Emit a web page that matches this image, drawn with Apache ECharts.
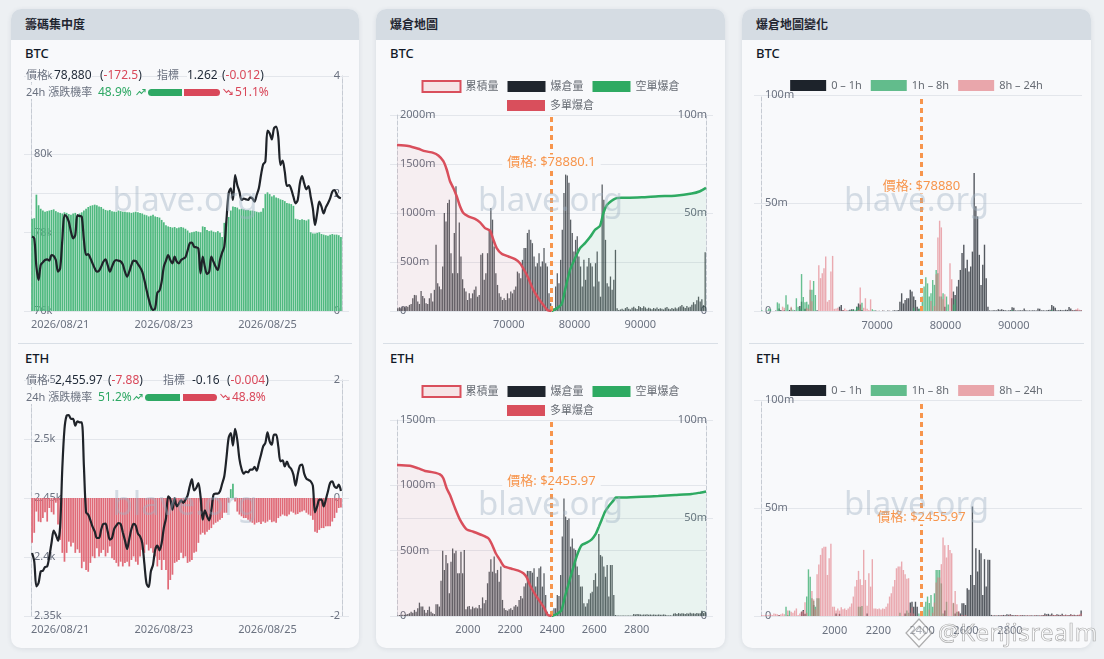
<!DOCTYPE html>
<html><head><meta charset="utf-8">
<script src="https://cdn.jsdelivr.net/npm/echarts@6/dist/echarts.min.js"></script>
<style>
html,body{margin:0;padding:0;}
body{width:1104px;height:659px;background:#edf0f3;position:relative;overflow:hidden;font-family:'Noto Sans','Noto Sans CJK TC',sans-serif;}
.card{position:absolute;top:9px;height:639px;background:#f8f9fb;border-radius:10px;box-shadow:0 1px 5px rgba(40,55,75,0.10);overflow:hidden;}
.hdr{height:31px;background:#d5dce3;font-size:12px;font-weight:700;color:#1f2530;line-height:31px;padding-left:14px;}
.sym{position:absolute;left:14px;font-size:13px;font-weight:500;color:#111827;line-height:16px;}
.sep{position:absolute;left:7px;right:7px;top:334px;height:1px;background:#d9dfe6;}
.chart{position:absolute;z-index:2;}
.t{position:absolute;font-size:12px;line-height:14px;white-space:nowrap;z-index:3;color:#1f2937;background:#f8f9fb;}
.g{color:#6b7280;font-size:11px}.r{color:#d9485a}.gr{color:#2ea864}
.pill{position:absolute;height:7px;z-index:3;}
.ico{position:absolute;z-index:3;}
.wm{position:absolute;left:938px;top:617px;font-size:24px;line-height:30px;color:rgba(255,255,255,0.55);-webkit-text-stroke:0.7px rgba(110,110,110,0.55);z-index:10;letter-spacing:0.5px;}
</style></head>
<body>
<div class="card" style="left:11px;width:348px"><div class="hdr">籌碼集中度</div><div class="sym" style="top:36px">BTC</div><div class="sep"></div><div class="sym" style="top:341px">ETH</div></div>
<div class="card" style="left:376px;width:349px"><div class="hdr">爆倉地圖</div><div class="sym" style="top:36px">BTC</div><div class="sep"></div><div class="sym" style="top:341px">ETH</div></div>
<div class="card" style="left:742px;width:349px"><div class="hdr">爆倉地圖變化</div><div class="sym" style="top:36px">BTC</div><div class="sep"></div><div class="sym" style="top:341px">ETH</div></div>

<div id="c1" class="chart" style="left:11px;top:62px;width:348px;height:280px"></div>
<div id="c2" class="chart" style="left:11px;top:366px;width:348px;height:280px"></div>
<div id="c3" class="chart" style="left:376px;top:62px;width:349px;height:280px"></div>
<div id="c4" class="chart" style="left:376px;top:366px;width:349px;height:280px"></div>
<div id="c5" class="chart" style="left:742px;top:62px;width:349px;height:280px"></div>
<div id="c6" class="chart" style="left:742px;top:366px;width:349px;height:280px"></div>

<!-- BTC info -->
<div class="t g" style="left:26px;top:68px">價格</div>
<div class="t" style="left:54px;top:68px">78,880</div>
<div class="t" style="left:100px;top:68px">(<span class="r">-172.5</span>)</div>
<div class="t g" style="left:157px;top:68px">指標</div>
<div class="t" style="left:187px;top:68px">1.262</div>
<div class="t" style="left:222px;top:68px">(<span class="r">-0.012</span>)</div>
<div class="t g" style="left:26px;top:85px">24h 漲跌機率</div>
<div class="t gr" style="left:98px;top:85px">48.9%</div>
<svg class="ico" style="left:136px;top:88px" width="10" height="8" viewBox="0 0 10 8"><polyline points="0.5,7 3.5,3.5 5.5,5.5 9,1.5" fill="none" stroke="#2ea864" stroke-width="1.1"/><polyline points="6.3,1.5 9,1.5 9,4.2" fill="none" stroke="#2ea864" stroke-width="1.1"/></svg>
<div class="pill" style="left:148px;top:88.5px;width:34px;background:#2ea864;border-radius:4px 0 0 4px"></div>
<div class="pill" style="left:184px;top:88.5px;width:36px;background:#d9485a;border-radius:0 4px 4px 0"></div>
<svg class="ico" style="left:223px;top:88px" width="10" height="8" viewBox="0 0 10 8"><polyline points="0.5,1 3.5,4.5 5.5,2.5 9,6.5" fill="none" stroke="#d9485a" stroke-width="1.1"/><polyline points="6.3,6.5 9,6.5 9,3.8" fill="none" stroke="#d9485a" stroke-width="1.1"/></svg>
<div class="t r" style="left:235px;top:85px">51.1%</div>

<!-- ETH info -->
<div class="t g" style="left:26px;top:373px">價格</div>
<div class="t" style="left:55px;top:373px">2,455.97</div>
<div class="t" style="left:108px;top:373px">(<span class="r">-7.88</span>)</div>
<div class="t g" style="left:163px;top:373px">指標</div>
<div class="t" style="left:192px;top:373px">-0.16</div>
<div class="t" style="left:227px;top:373px">(<span class="r">-0.004</span>)</div>
<div class="t g" style="left:26px;top:390px">24h 漲跌機率</div>
<div class="t gr" style="left:98px;top:390px">51.2%</div>
<svg class="ico" style="left:133px;top:393px" width="10" height="8" viewBox="0 0 10 8"><polyline points="0.5,7 3.5,3.5 5.5,5.5 9,1.5" fill="none" stroke="#2ea864" stroke-width="1.1"/><polyline points="6.3,1.5 9,1.5 9,4.2" fill="none" stroke="#2ea864" stroke-width="1.1"/></svg>
<div class="pill" style="left:145px;top:393.5px;width:35px;background:#2ea864;border-radius:4px 0 0 4px"></div>
<div class="pill" style="left:183px;top:393.5px;width:34px;background:#d9485a;border-radius:0 4px 4px 0"></div>
<svg class="ico" style="left:220px;top:393px" width="10" height="8" viewBox="0 0 10 8"><polyline points="0.5,1 3.5,4.5 5.5,2.5 9,6.5" fill="none" stroke="#d9485a" stroke-width="1.1"/><polyline points="6.3,6.5 9,6.5 9,3.8" fill="none" stroke="#d9485a" stroke-width="1.1"/></svg>
<div class="t r" style="left:232px;top:390px">48.8%</div>

<svg style="position:absolute;left:904px;top:617px;z-index:10" width="30" height="32" viewBox="0 0 30 32"><path d="M15 2 L28 16 L15 30 L2 16 Z" fill="rgba(255,255,255,0.45)" stroke="rgba(110,110,110,0.55)" stroke-width="1.2"/><path d="M15 9 L22 16 L15 23 L8 16 Z" fill="none" stroke="rgba(110,110,110,0.5)" stroke-width="1.2"/></svg>
<div class="wm">@Kenjisrealm</div>

<script>
// ---------------- data ----------------
const dateTicks = ['2026/08/21', '2026/08/23', '2026/08/25'];
const hourStartUTC = Date.UTC(2026, 7, 20, 11);

const btcConcBars = [1.57,1.58,1.98,1.80,1.74,1.71,1.69,1.70,1.71,1.72,
1.73,1.70,1.68,1.67,1.66,1.68,1.67,1.65,1.64,1.66,
1.67,1.63,1.66,1.68,1.71,1.74,1.77,1.79,1.80,1.81,
1.80,1.78,1.77,1.74,1.72,1.71,1.72,1.70,1.69,1.69,
1.71,1.70,1.69,1.69,1.68,1.68,1.67,1.68,1.69,1.68,
1.67,1.66,1.64,1.63,1.61,1.62,1.64,1.61,1.60,1.59,
1.55,1.51,1.46,1.44,1.43,1.42,1.43,1.41,1.42,1.43,
1.42,1.40,1.37,1.33,1.34,1.35,1.36,1.35,1.34,1.44,
1.43,1.38,1.36,1.37,1.35,1.34,1.36,1.33,1.26,1.50,
1.52,1.60,1.71,1.78,1.77,1.76,1.73,1.74,1.73,1.72,
1.72,1.71,1.71,1.70,1.69,1.68,1.69,1.75,1.99,2.02,
1.99,1.95,1.97,1.93,1.92,1.90,1.89,1.87,1.84,1.83,
1.82,1.79,1.57,1.56,1.55,1.56,1.55,1.54,1.56,1.34,
1.32,1.32,1.33,1.34,1.31,1.30,1.29,1.28,1.30,1.31,
1.30,1.30,1.29,1.26];

const btcConcPrice = [77900,77855,77132,76791,77174,77242,77302,77319,77285,77430,
77404,77302,77004,77089,77813,78451,78408,78281,78025,77855,
77940,78451,78425,78408,77813,77430,77455,77345,77217,77089,
77004,77030,77132,77259,77319,77174,77004,77132,77259,77302,
77285,77268,77191,77004,76877,77004,77174,77285,77277,77200,
77115,77004,76791,76536,76306,76111,76026,76068,76468,76519,
76749,77132,77285,77430,77302,77217,77387,77259,77217,77302,
77336,77370,77540,77728,77745,77642,77625,77600,76962,77387,
77132,76945,77004,77387,77259,77132,77047,77302,77489,77642,
78323,79004,79132,78834,79472,79217,79047,78834,78868,78851,
78834,78902,78876,78791,78961,79132,79472,79744,79812,80604,
80536,80383,80663,80706,80451,79727,79838,79557,79191,79217,
79106,78919,78749,78834,79259,79447,79259,79106,79191,78919,
78621,78196,78493,78791,78664,78493,78647,78749,78876,79047,
79089,78979,78902,78880];

const ethConcBars = [-0.76,-0.59,-0.23,-0.40,-0.41,-0.34,-0.24,-0.40,-0.17,-0.24,
-0.28,-0.08,-0.45,-0.71,-0.93,-1.08,-0.93,-0.74,-0.82,-0.76,
-0.93,-0.87,-0.93,-1.19,-1.08,-1.22,-1.25,-1.10,-0.99,-1.02,
-0.85,-0.99,-0.93,-0.88,-0.99,-0.93,-0.82,-1.02,-1.05,-1.10,
-1.16,-1.08,-1.16,-1.10,-1.08,-1.16,-1.05,-0.99,-1.08,-1.13,
-0.99,-0.88,-0.93,-0.79,-0.89,-0.85,-0.93,-0.99,-1.16,-1.05,
-1.22,-1.05,-1.22,-1.55,-1.39,-1.30,-1.10,-1.08,-1.05,-0.93,
-1.02,-0.99,-1.10,-1.08,-1.05,-0.93,-0.91,-0.76,-0.62,-0.59,
-0.62,-0.57,-0.54,-0.51,-0.45,-0.42,-0.40,-0.37,-0.34,-0.25,
-0.25,-0.08,0.15,0.24,-0.06,-0.23,-0.28,-0.31,-0.34,-0.34,
-0.37,-0.40,-0.42,-0.45,-0.42,-0.41,-0.44,-0.40,-0.42,-0.40,
-0.37,-0.41,-0.40,-0.42,-0.34,-0.31,-0.28,-0.30,-0.31,-0.28,
-0.23,-0.25,-0.28,-0.27,-0.24,-0.23,-0.21,-0.25,-0.28,-0.30,
-0.37,-0.57,-0.59,-0.54,-0.51,-0.51,-0.48,-0.48,-0.48,-0.40,
-0.34,-0.25,-0.17,-0.16];

const ethConcPrice = [2403.4,2396.3,2375.1,2378.0,2387.8,2388.4,2391.5,2392.1,2400.6,2411.9,
2422.3,2418.9,2413.8,2426.0,2475.4,2508.5,2519.8,2520.3,2517.0,2517.0,
2511.3,2515.0,2514.1,2514.1,2476.8,2437.9,2435.9,2431.1,2425.7,2421.7,
2416.1,2416.1,2423.2,2428.0,2428.2,2421.7,2414.7,2416.1,2423.7,2426.6,
2428.8,2428.0,2420.9,2414.1,2406.8,2415.3,2423.7,2428.0,2426.6,2419.8,
2417.5,2411.9,2394.3,2377.4,2374.6,2387.8,2393.5,2406.2,2409.6,2405.6,
2411.9,2424.6,2433.0,2451.4,2449.2,2440.1,2450.0,2442.9,2445.2,2448.0,
2445.8,2448.6,2452.0,2459.9,2466.1,2456.5,2458.5,2462.7,2451.4,2431.6,
2439.5,2434.5,2431.1,2439.5,2452.8,2453.7,2453.7,2455.7,2462.1,2468.4,
2483.9,2500.9,2505.1,2494.4,2508.5,2499.4,2483.1,2474.6,2470.6,2472.3,
2471.8,2474.0,2474.0,2476.3,2473.2,2479.7,2486.7,2493.8,2496.6,2505.7,
2498.0,2495.2,2503.7,2503.7,2493.8,2481.1,2481.9,2476.8,2480.8,2476.6,
2474.6,2469.8,2460.5,2469.8,2477.4,2478.3,2470.6,2466.4,2465.3,2464.1,
2460.5,2437.9,2442.9,2448.6,2448.6,2442.9,2448.6,2455.7,2462.7,2464.1,
2459.9,2458.5,2461.3,2455.97];

const btcPrice = 78880.1;
const ethPrice = 2455.97;

// liquidation map (per price bin, m)
const btcMapVol = [1.4,1.9,1.4,2.2,1.9,2.6,2.2,3.1,3.6,6.5,
8.2,8.0,4.8,3.6,10.2,7.7,6.5,3.9,3.6,6.5,
9.0,4.8,10.8,33.8,14.2,12.5,11.1,22.7,50.0,45.7,
55.1,56.8,29.5,19.3,39.8,63.7,19.3,45.2,27.8,16.2,
11.6,9.9,5.6,9.0,6.5,9.0,10.8,12.5,7.3,8.2,
28.7,29.5,15.9,19.3,29.5,41.5,52.6,46.6,32.9,19.3,
13.3,9.0,7.3,5.6,6.5,5.6,9.0,6.5,9.9,9.0,
10.8,12.5,20.1,19.3,16.7,26.1,32.1,32.1,39.8,41.5,
36.3,34.6,27.8,22.7,24.4,29.5,22.7,25.3,32.1,24.4,
22.7,9.0,3.9,0.5,1.4,12.5,19.3,14.2,26.1,41.5,
60.2,69.6,69.1,65.4,46.6,39.8,30.4,36.3,38.1,27.8,
22.7,12.5,26.1,15.9,22.7,27.0,24.4,22.7,12.5,24.4,
30.4,15.0,7.3,64.5,56.8,36.3,14.2,12.5,17.6,10.8,
15.9,31.2,1.4,
0.5,0.8,1.2,0.6,1.5,2.0,1.2,0.8,1.6,2.2,
1.4,1.0,2.5,2.0,1.5,2.4,1.8,1.2,1.6,1.3,
0.9,1.5,1.2,1.8,1.0,1.4,1.1,0.8,1.6,2.0,
1.2,0.9,1.5,1.1,1.8,1.3,1.9,2.4,3.0,2.2,
1.5,2.6,1.8,2.2,3.2,4.5,3.5,5.5,7.3,4.8,
6.0,3.0,30.0];

const btcMapLong = [[55216,1693],[56952,1683],[58484,1655],[59506,1631],[60782,1614],[61548,1587],[62314,1529],[62825,1444],[63336,1324],[63846,1256],[64357,1171],[64868,1068],[65378,1000],[66144,966],[67166,939],[67932,904],[68698,846],[69464,819],[69974,727],[70485,642],[71251,584],[72272,556],[73294,529],[74060,488],[74826,403],[75336,334],[76102,215],[76868,130],[77634,61],[78300,8],[78880.1,0]];
const btcMapShort = [[78880.1,0],[79677,27],[80443,72],[80954,215],[81720,420],[82486,539],[83252,642],[84018,693],[84784,754],[85550,829],[86316,870],[86826,1000],[87337,1079],[87848,1113],[88358,1137],[88869,1152],[89635,1155],[92699,1160],[95252,1171],[97806,1177],[100359,1198],[101636,1222],[102544,1256]];

const ethMapVol = [0.3,0.5,0.4,0.6,0.5,0.8,1.0,1.4,2.2,1.7,
3.1,2.2,3.9,6.8,4.8,4.8,3.1,1.7,3.1,4.8,
2.2,1.4,1.0,6.0,6.0,4.8,18.0,33.3,23.5,31.1,
26.9,11.6,27.7,34.5,32.0,33.3,21.8,21.8,32.8,21.8,
33.7,3.4,4.8,5.1,3.4,4.8,3.9,4.4,3.9,5.6,
3.9,9.5,6.5,8.2,16.7,22.6,28.9,22.6,30.3,21.8,
23.5,17.5,25.2,8.2,3.9,3.1,2.7,3.4,3.9,3.1,
4.8,5.6,4.8,8.2,10.2,9.0,15.0,16.7,23.0,23.0,
23.0,22.1,24.3,15.0,20.0,24.3,25.2,15.0,21.8,10.7,
2.2,0.5,0.5,2.7,3.9,3.9,10.7,10.2,20.9,40.5,
60.0,50.7,49.0,49.8,35.4,39.6,34.5,33.7,25.2,20.9,
15.0,15.0,6.5,4.8,6.5,8.5,11.6,12.4,18.4,21.8,
15.0,41.8,31.1,30.3,25.2,20.0,26.0,9.9,26.0,26.0,
10.7,0.5,
0.2,0.3,0.2,0.2,0.3,0.2,0.2,0.3,0.2,0.2,
1.0,0.8,1.0,0.9,
0.8,0.6,0.8,0.7,0.9,0.6,0.8,0.7,0.8,0.6,0.7,0.8,0.6,0.7,0.8,0.6,
0.4,0.3,0.4,0.3,
1.2,1.4,1.0,1.5,1.2,1.4,1.3,1.0,1.4,1.2,1.7,1.3,1.4,1.2,1.5,1.3,1.4,2.7,1.5,1.8];

const ethMapLong = [[1719.18,1156],[1781,1150],[1821,1130],[1853,1110],[1892,1099],[1924,1084],[1940,1054],[1956,977],[1972,926],[1996,824],[2020,735],[2051,663],[2083,645],[2123,620],[2155,594],[2171,551],[2190,480],[2210,429],[2231,378],[2266,362],[2298,347],[2322,327],[2338,296],[2353,237],[2377,168],[2401,110],[2422,59],[2438,8],[2455.97,0]];
const ethMapShort = [[2455.97,0],[2481,15],[2504,46],[2520,148],[2536,237],[2552,327],[2568,416],[2584,492],[2600,543],[2624,561],[2648,587],[2667,628],[2682,684],[2695,735],[2711,798],[2727,837],[2751,883],[2762,906],[2791,906],[2886,913],[2965,918],[3045,926],[3124,934],[3164,944],[3192.76,952]];

// tick labels of the price axis (where they sit, and their text)
const btcMapTicks = [72340, 82410, 92480];
const btcMapTickText = ['70000', '80000', '90000'];
const ethMapTicks = [2057, 2258, 2459, 2660, 2862];
const ethMapTickText = ['2000', '2200', '2400', '2600', '2800'];

// liquidation map change (per price bin, m)
const btcChg1h = [0,0,0,0,0,0,0,0,0.2,0,
1.2,0.5,0,0.4,0,0,0.5,0,0,0.3,
0,0,2.3,4.3,0,1.0,0,0,0,0,
0,0,0.3,0,0,0,0,0,0,0,
0,0,0,0,0,2.0,2.8,0.5,0,0,
0.2,0.6,0.8,0.8,0,2.0,3.5,3.0,0.5,0,
0,0,0,0,0,0,0.2,0,0.1,0,
0.2,0.1,0,0.2,0.1,0,0.2,0.3,0.2,0.5,
4.3,8.2,3.5,5.1,5.9,5.9,9.8,9.0,6.7,5.1,
2.0,1.0,0,0,0,0,0,0,0,0,
0,0,0,0,0,0,2.0,0,0,0,
5.9,9.0,7.4,11.3,14.4,19.0,26.8,30.7,19.8,23.7,
18.3,20.6,27.5,63.9,48.5,43.8,26.0,12.0,21.4,30.7,
15.2,2.0,
0.3,0.2,0.3,0.4,0.3,0.8,0.6,0.8,0.5,0.3,
0.2,0.3,0.4,1.7,1.5,0.3,0.2,0.3,0.4,0.3,
1.2,0.3,0.2,0.3,0.2,0.4,0.3,0.2,1.2,1.0,
0.3,0.4,0.2,0.3,0.5,0.6,2.8,2.2,1.5,0.4,
0.3,0.5,0.4,0.3,0.6,0.5,1.8,1.2,0.4,0.3,
0.5,0.3,0.2,0.3];
const btcChg8h = [0.3,0,0,0.2,1.2,0.8,0,0,0,4.0,
3.5,0,0,0,7.3,3.0,0,1.5,0.6,0,
5.9,2.0,1.0,17.1,6.5,4.0,4.3,3.0,9.8,9.8,
13.9,7.4,0,0,0,0,0,0,0,0,
0,0,0,0,0,0,0,0,0,0,
0,0,0.5,0.4,0.6,2.0,1.6,2.0,3.8,0,
0,0,0,0,0.8,0.4,0,0,0,0,
0,0,0,0,0,0,0,0,0,0,
0,0,0,0,0,0,0,0,1.5,0,
0,1.0,1.5,6.7,11.3,15.6,12.8,6.7,8.2,14.4,
12.1,19.0,17.5,6.7,6.7,8.2,0,6.7,3.0,0,
0,3.0,5.4,0,0,0,0,0,0,0,
0,0,0,0,0,0,0,0,0,0,
0,0,
0,0,0,0,0,0,0,0,0,0,
0,0,0,0.3,0,0,0,0,0,0,
0,0,0,0,0,0,0,0,0,0,
0,0,0,0,0,0,0.4,0,0,0,
0,0,0,0,0,0,0,0,0,0,
0,0,0,0];
const btcChg24h = [0,0,0,0,0,0,0,0,0,0,
0,0,2.0,1.5,0,0,0,2.0,0,0,
0,0,0,0,0,0,1.5,1.0,14.2,4.5,
0,0,0,21.2,15.2,17.5,19.8,25.2,4.3,5.1,
18.3,25.5,1.0,1.2,1.5,0.5,0,0.5,1.2,0.5,
0,0,0,0,0,0,0.5,10.9,0,1.5,
5.9,1.0,0.5,5.4,0,0,0,0.1,0,0,
0.1,0,0,0,0.1,0,0,0,0,0,
0,0,0,0,0,0,0,0,0,0,
0,0,0,0,0,0,0,0,4.6,0,
2.3,17.0,34.0,41.8,38.7,5.4,7.8,0,0,22.1,
14.7,0,0,0,0,0,0,0,0,0,
0,0,0,0,0,0,0,0,0,0,
0,0,
0,0,0,0,0,0,0,0,0,0,
0,0,0,0,0,0,0,0,0,0,
0,0,0,0,0,0,0,0,0,0,
0,0,0,0,0,0,0,0,0,0,
0,0,0,0,0,0,0,0,0.3,0,
0.8,1.2,0.6,0.4];

const ethChg1h = [0,0,0,0,0,0,0,0,0,0,
0.5,0,0,0,0,0,0,0,0,0,
0,0,0,2.0,2.8,1.0,0,0,0,0,
5.1,0,0,0,0,0,0,0,0,0,
0,0,0,1.2,0,1.0,0,0,0,0,
0,0,0,0,0,0,0,0,0,0,
0,1.2,0,0,0,0,0,0,0,0,
0,0,0,0,0,0,0,0,0,0,
0,0,0,1.2,0,0,6.2,6.6,4.3,6.6,
4.3,0,0,0,0,0,0,0,0,0,
0,0,0,0,0,0,2.5,0,0,0,
0,0,1.2,0,2.0,1.2,5.9,5.9,5.1,12.8,
12.1,19.0,50.7,14.4,31.4,20.6,30.6,29.1,9.7,26.3,
13.6,26.0,26.0,0.5,
0.2,0.3,0.2,0.3,0.4,0.3,0.5,0.3,0.8,0.6,
0.8,0.5,0.3,0.4,0.3,0.2,0.3,0.4,0.3,0.2,
0.3,0.2,0.3,0.2,0.3,0.4,0.3,0.2,0.3,0.5,
1.2,0.8,1.0,0.6,1.2,0.5,0.4,0.8,0.6,0.5,
1.0,0.4,0.6,0.3,0.5,0.8,0.4,0.6,0.3,0.5,
0.4,2.5];
const ethChg8h = [0,0,0,0,0,0,0,0,0,0,
0,0,0,0,4.3,0.5,2.5,0,0,0,
0,0,0,0,0,0,9.0,21.6,18.2,8.2,
7.0,4.3,8.2,8.2,0,0,0,0,0,0,
0,0,0,0,0,0,0,0,0,0,
0,0,0,0,0,0,4.3,4.3,4.6,0,
0,0,0,0,0,0,0,0,0,0,
0,0,0,0,0,0,0,0,0,0,
1.5,0,0,0,2.5,1.5,0,0,0,0,
0,1.2,0.5,2.0,4.3,6.6,9.0,6.0,9.7,4.3,
10.5,21.3,21.3,21.3,15.1,1.2,0,6.6,0,0,
0,5.9,0,2.0,0,0,0,0,0,0,
0,0,0,0,0,0,0,0,0,0,
0,0,0,0,
0,0,0,0,0,0,0,0,0,0,
0,0,0,0,0,0,0,0,0,0,
0,0,0,0,0,0,0,0,0,0,
0,0,0,0,0,0,0,0,0,0,
0,0,0,0,0,0,0,0,0,0,
0,0];
const ethChg24h = [0.5,0.3,0.5,0.3,0.5,0.8,0.5,1.2,1.0,0.8,
0.5,0.8,1.2,0.8,0,2.6,0,2.0,1.5,2.5,
3.5,0.5,1.2,2.0,2.3,6.4,1.5,0,0,11.6,
7.7,3.1,19.3,23.9,28.3,31.4,32.1,32.1,19.0,26.7,
33.4,4.3,4.3,2.5,3.5,2.5,4.0,3.1,3.5,2.8,
3.5,4.3,5.8,9.0,13.6,16.7,20.9,17.0,14.4,30.6,
16.7,4.7,19.8,13.6,26.3,3.5,3.5,3.2,3.5,3.0,
3.5,3.3,4.3,5.8,9.0,10.5,13.6,16.7,22.1,22.9,
22.9,25.2,21.3,19.3,17.3,17.5,1.5,3.9,1.2,0,
0,0,0,0,0,0,0,3.0,0,1.5,
6.2,15.5,17.8,17.8,24.0,36.4,32.7,27.1,32.9,30.6,
29.1,6.1,11.6,5.4,2.3,0,0.5,0,0.5,0,
0,0,0,0,0,0,0,0,0,0,
0,0,0,0,
0.2,0,0.3,0,0.2,0.3,0,0.2,0,0.3,
0.4,0.2,0,0.3,0.5,0.4,0.3,0.2,0,0.3,
0.2,0.3,0.2,0,0.3,0.2,0,0.3,0.2,0.3,
0.2,0.3,0,0.2,0.3,0.4,0.5,0.3,0.2,0.3,
0.4,0.3,0.5,0.4,0.3,0.6,0.5,0.4,0.3,0.5,
0.8,1.2];

// ---------------- helpers ----------------
const FONT = "'Noto Sans','Noto Sans CJK TC',sans-serif";
const AX = '#6b7280', GRID = '#e3e6eb', AXLINE = '#c6cbd3';
const RED = '#d94f5c', GREEN = '#2eaa62', ORANGE = '#f7954c';

const pad = n => String(n).padStart(2, '0');
const hours = btcConcBars.map((_, i) => {
  const d = new Date(hourStartUTC + i * 3600e3);
  return d.getUTCFullYear() + '/' + pad(d.getUTCMonth() + 1) + '/' + pad(d.getUTCDate()) + ' ' + pad(d.getUTCHours()) + ':00';
});
const midIdx = Math.floor(hours.length / 2);

function watermark() {
  return [{type: 'text', left: 'center', top: 'middle', z: 100, silent: true,
    style: {text: 'blave.org', fontSize: 33, fontFamily: FONT, fill: 'rgba(160,178,196,0.42)'}}];
}
function yAx(o) {
  return Object.assign({
    type: 'value',
    axisLabel: {inside: true, margin: 3, color: AX, fontSize: 11},
    axisLine: {show: true, onZero: false, lineStyle: {type: 'dashed', color: AXLINE}},
    axisTick: {show: true, inside: false, length: 7, lineStyle: {color: GRID}},
    splitLine: {show: true, lineStyle: {color: GRID}}
  }, o);
}
const mfmt = v => v === 0 ? '0' : v + 'm';

function concOption(o) {
  return {
    animation: false,
    textStyle: {fontFamily: FONT},
    grid: {left: 20, right: 17, top: 14, bottom: o.bottom},
    graphic: watermark(),
    xAxis: {
      type: 'category', data: hours, boundaryGap: true,
      axisLine: {show: false}, axisTick: {show: false},
      axisLabel: {
        interval: (i, v) => v.endsWith(' 00:00') && dateTicks.includes(v.slice(0, 10)),
        formatter: v => v.slice(0, 10), color: AX, fontSize: 11, margin: 8
      },
      splitLine: {show: true, interval: i => i === midIdx, lineStyle: {color: GRID}}
    },
    yAxis: [
      yAx({min: o.min, max: o.max, interval: o.interval, position: 'left',
        axisLabel: {inside: true, margin: 3, color: AX, fontSize: 11, formatter: v => (v / 1000) + 'k'}}),
      yAx({min: o.rmin, max: o.rmax, interval: 2, position: 'right',
        axisLabel: {inside: true, margin: 2, color: AX, fontSize: 11}})
    ],
    series: [
      {type: 'bar', yAxisIndex: 1, data: o.bars, barCategoryGap: '20%', z: 2,
        itemStyle: {color: p => p.value >= 0 ? '#4fb97f' : '#e06a77'}},
      {type: 'line', yAxisIndex: 0, data: o.line, smooth: 0.3, showSymbol: false, z: 5,
        lineStyle: {color: '#1f2329', width: 2.2}}
    ]
  };
}

function binned(lo, hi, vals) {
  const w = (hi - lo) / vals.length;
  return vals.map((v, k) => [lo + (k + 0.5) * w, v]);
}
function priceAxis(lo, hi, ticks, texts, margin) {
  return {
    type: 'value', min: lo, max: hi,
    axisLine: {show: false, onZero: false}, axisTick: {show: false}, splitLine: {show: false},
    axisLabel: {customValues: ticks, formatter: v => {const i = ticks.indexOf(v); return i >= 0 ? texts[i] : '';},
      color: AX, fontSize: 11, margin: margin}
  };
}
function priceMarkLine(price) {
  return {symbol: 'none', silent: true, label: {show: false},
    lineStyle: {color: ORANGE, width: 3, type: [5, 4]}, data: [{xAxis: price}]};
}
function priceMarkPoint(price, y, text) {
  return {silent: true, data: [{coord: [price, y], symbol: 'rect', symbolSize: 1,
    itemStyle: {color: 'rgba(0,0,0,0)'},
    label: {show: true, position: 'inside', formatter: text, color: ORANGE, fontSize: 13,
      backgroundColor: '#f8f9fb', padding: [1, 5]}}]};
}
const legendText = {color: '#666b73', fontSize: 11};

function mapOption(o) {
  const lo = o.price * 0.7, hi = o.price * 1.3;
  return {
    animation: false,
    textStyle: {fontFamily: FONT},
    grid: {left: 21, right: 19, top: o.top, bottom: o.bottom},
    graphic: watermark(),
    legend: [
      {top: o.lgTop, left: 'center', itemWidth: 38, itemHeight: 11, itemGap: 9, icon: 'rect', textStyle: legendText,
        data: [{name: '累積量', itemStyle: {color: '#f6e4e6', borderColor: RED, borderWidth: 2}},
               {name: '爆倉量', itemStyle: {color: '#1f252d'}},
               {name: '空單爆倉', itemStyle: {color: GREEN}}]},
      {top: o.lgTop + 20, left: 'center', itemWidth: 38, itemHeight: 11, icon: 'rect', textStyle: legendText,
        data: [{name: '多單爆倉', itemStyle: {color: RED}}]}
    ],
    xAxis: priceAxis(lo, hi, o.ticks, o.tickText, 8),
    yAxis: [
      yAx({min: 0, max: o.cumMax, interval: 500, position: 'left',
        axisLabel: {inside: true, margin: 3, color: AX, fontSize: 11, formatter: mfmt}}),
      yAx({min: 0, max: 100, interval: 50, position: 'right',
        axisLabel: {inside: true, margin: -1, color: AX, fontSize: 11, formatter: mfmt}})
    ],
    series: [
      {name: '累積量', type: 'line', data: []},
      {name: '爆倉量', type: 'bar', yAxisIndex: 1, barWidth: 1.3, z: 3,
        data: binned(lo, hi, o.vol), itemStyle: {color: 'rgba(32,37,45,0.72)'},
        markLine: priceMarkLine(o.price)},
      {name: '空單爆倉', type: 'line', yAxisIndex: 0, data: o.short, smooth: 0.2, showSymbol: false, z: 4,
        lineStyle: {color: GREEN, width: 2.5}, itemStyle: {color: GREEN},
        areaStyle: {color: 'rgba(46,170,98,0.10)'}},
      {name: '多單爆倉', type: 'line', yAxisIndex: 0, data: o.long, smooth: 0.2, showSymbol: false, z: 5,
        lineStyle: {color: RED, width: 2.5}, itemStyle: {color: RED},
        areaStyle: {color: 'rgba(217,79,92,0.09)'},
        markPoint: priceMarkPoint(o.price, o.labelAt, o.labelText)}
    ]
  };
}

function chgOption(o) {
  const lo = o.price * 0.7, hi = o.price * 1.3;
  const bar = (name, vals, color) => ({name, type: 'bar', stack: 'chg', barWidth: 1.4,
    data: binned(lo, hi, vals), itemStyle: {color}});
  const s1 = bar('0 – 1h', o.d, 'rgba(29,35,43,0.75)');
  s1.markLine = priceMarkLine(o.price);
  const s3 = bar('8h – 24h', o.p, 'rgba(224,112,123,0.58)');
  s3.markPoint = priceMarkPoint(o.price, o.labelAt, o.labelText);
  return {
    animation: false,
    textStyle: {fontFamily: FONT},
    grid: {left: 19, right: 9, top: o.top, bottom: o.bottom},
    graphic: watermark(),
    legend: {top: o.lgTop, left: 'center', itemWidth: 36, itemHeight: 11, itemGap: 9, icon: 'rect', textStyle: legendText,
      data: [{name: '0 – 1h', itemStyle: {color: '#1d232b'}},
             {name: '1h – 8h', itemStyle: {color: '#62bc8c'}},
             {name: '8h – 24h', itemStyle: {color: '#e9a6ab'}}]},
    xAxis: priceAxis(lo, hi, o.ticks, o.tickText, 9),
    yAxis: yAx({min: 0, max: 100, interval: 50, position: 'left',
      axisLabel: {inside: true, margin: 4, color: AX, fontSize: 11, formatter: mfmt}}),
    series: [s1, bar('1h – 8h', o.g, 'rgba(47,168,102,0.72)'), s3]
  };
}

// ---------------- render ----------------
const mk = id => echarts.init(document.getElementById(id));
mk('c1').setOption(concOption({bars: btcConcBars, line: btcConcPrice, min: 76000, max: 82000, interval: 2000, rmin: 0, rmax: 4, bottom: 31}));
mk('c2').setOption(concOption({bars: ethConcBars, line: ethConcPrice, min: 2350, max: 2550, interval: 50, rmin: -2, rmax: 2, bottom: 30}));
mk('c3').setOption(mapOption({price: btcPrice, vol: btcMapVol, long: btcMapLong, short: btcMapShort, cumMax: 2000,
  ticks: btcMapTicks, tickText: btcMapTickText, top: 53, bottom: 31, lgTop: 13, labelAt: 1520, labelText: '價格: $78880.1'}));
mk('c4').setOption(mapOption({price: ethPrice, vol: ethMapVol, long: ethMapLong, short: ethMapShort, cumMax: 1500,
  ticks: ethMapTicks, tickText: ethMapTickText, top: 54, bottom: 30, lgTop: 14, labelAt: 1033, labelText: '價格: $2455.97'}));
mk('c5').setOption(chgOption({price: btcPrice, d: btcChg1h, g: btcChg8h, p: btcChg24h,
  ticks: btcMapTicks, tickText: btcMapTickText, top: 33, bottom: 31, lgTop: 13, labelAt: 57.9, labelText: '價格: $78880'}));
mk('c6').setOption(chgOption({price: ethPrice, d: ethChg1h, g: ethChg8h, p: ethChg24h,
  ticks: ethMapTicks, tickText: ethMapTickText, top: 34, bottom: 30, lgTop: 14, labelAt: 45.8, labelText: '價格: $2455.97'}));
</script>
</body></html>
